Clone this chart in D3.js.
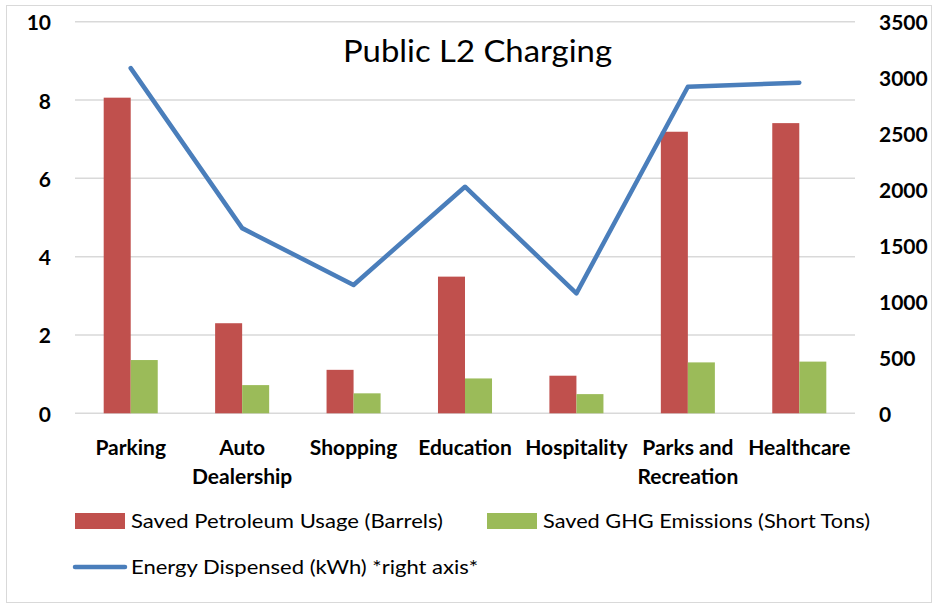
<!DOCTYPE html>
<html>
<head>
<meta charset="utf-8">
<script src="https://cdn.jsdelivr.net/npm/d3@7"></script>
<style>
  html, body { margin: 0; padding: 0; background: #fff; }
  svg text { font-family: Lato, "Open Sans", sans-serif; fill: #000; }
</style>
</head>
<body>
<svg id="chart" width="939" height="605"></svg>
<script>
// Public L2 charging by venue type
const categories = ["Parking", "Auto Dealership", "Shopping", "Education", "Hospitality", "Parks and Recreation", "Healthcare"];
const categoryLines = [["Parking"], ["Auto", "Dealership"], ["Shopping"], ["Education"], ["Hospitality"], ["Parks and", "Recreation"], ["Healthcare"]];
const petroleumBarrels = [8.06, 2.30, 1.11, 3.49, 0.96, 7.19, 7.41];
const ghgShortTons = [1.36, 0.72, 0.51, 0.89, 0.49, 1.30, 1.32];
const energyKWh = [3085, 1655, 1147, 2025, 1072, 2919, 2955];
const leftTicks = [0, 2, 4, 6, 8, 10];
const rightTicks = [0, 500, 1000, 1500, 2000, 2500, 3000, 3500];
const seriesNames = ["Saved Petroleum Usage (Barrels)", "Saved GHG Emissions (Short Tons)", "Energy Dispensed (kWh) *right axis*"];

const colors = { petroleum: "#C0504D", ghg: "#9BBB59", energy: "#4A7EBB", grid: "#D9D9D9" };

const svg = d3.select("#chart");
const plot = { left: 75, right: 855, top: 21.7, bottom: 413.3 };

// outer frame
svg.append("rect")
  .attr("x", 6.5).attr("y", 5.5).attr("width", 925).attr("height", 597)
  .attr("fill", "#fff").attr("stroke", colors.grid).attr("stroke-width", 1);

const x0 = d3.scaleBand().domain(categories).range([plot.left, plot.right])
  .paddingInner(0.515).paddingOuter(0.2575);
const x1 = d3.scaleBand().domain(["petroleum", "ghg"]).range([0, x0.bandwidth()]);
const yL = d3.scaleLinear().domain([0, 10]).range([plot.bottom, plot.top]);
const yR = d3.scaleLinear().domain([0, 3500]).range([plot.bottom, plot.top]);

// horizontal gridlines
svg.append("g").selectAll("line").data(leftTicks).join("line")
  .attr("x1", plot.left).attr("x2", plot.right)
  .attr("y1", d => yL(d)).attr("y2", d => yL(d))
  .attr("stroke", colors.grid).attr("stroke-width", 1.5);

// left axis labels
const leftAxis = d3.axisLeft(yL).tickValues(leftTicks).tickSize(0).tickPadding(0).tickFormat(d3.format("d"));
const gL = svg.append("g").attr("transform", "translate(51,0)").call(leftAxis);
gL.select(".domain").remove();
gL.selectAll("text").attr("font-size", 21).attr("font-weight", "bold").attr("dy", "0.38em");

// right axis labels
const rightAxis = d3.axisRight(yR).tickValues(rightTicks).tickSize(0).tickPadding(0).tickFormat(d3.format("d"));
const gR = svg.append("g").attr("transform", "translate(879,0)").call(rightAxis);
gR.select(".domain").remove();
gR.selectAll("text").attr("font-size", 21).attr("font-weight", "bold").attr("dy", "0.38em");

// bars
const groups = svg.append("g").selectAll("g").data(categories).join("g")
  .attr("transform", d => `translate(${x0(d)},0)`);
groups.append("rect")
  .attr("x", x1("petroleum")).attr("width", x1.bandwidth())
  .attr("y", (d, i) => yL(petroleumBarrels[i]))
  .attr("height", (d, i) => yL(0) - yL(petroleumBarrels[i]))
  .attr("fill", colors.petroleum);
groups.append("rect")
  .attr("x", x1("ghg")).attr("width", x1.bandwidth())
  .attr("y", (d, i) => yL(ghgShortTons[i]))
  .attr("height", (d, i) => yL(0) - yL(ghgShortTons[i]))
  .attr("fill", colors.ghg);

// energy line on right axis
const line = d3.line()
  .x((d, i) => x0(categories[i]) + x0.bandwidth() / 2)
  .y(d => yR(d));
svg.append("path").datum(energyKWh)
  .attr("d", line).attr("fill", "none")
  .attr("stroke", colors.energy).attr("stroke-width", 4.5)
  .attr("stroke-linejoin", "round").attr("stroke-linecap", "round");

// category labels
const catG = svg.append("g").selectAll("text").data(categories).join("text")
  .attr("x", d => x0(d) + x0.bandwidth() / 2)
  .attr("y", 455)
  .attr("text-anchor", "middle")
  .attr("font-size", 21).attr("font-weight", "bold");
catG.each(function(d, i) {
  d3.select(this).selectAll("tspan").data(categoryLines[i]).join("tspan")
    .attr("x", x0(d) + x0.bandwidth() / 2)
    .attr("dy", (t, j) => j === 0 ? 0 : 29)
    .text(t => t);
});

// title
svg.append("text").attr("x", 343).attr("y", 62)
  .attr("font-size", 30).attr("textLength", 269).attr("lengthAdjust", "spacingAndGlyphs")
  .text("Public L2 Charging");

// legend
const legend = svg.append("g");
legend.append("rect").attr("x", 75).attr("y", 513).attr("width", 50).attr("height", 16).attr("fill", colors.petroleum);
legend.append("text").attr("x", 131).attr("y", 528).attr("font-size", 20)
  .attr("textLength", 312).attr("lengthAdjust", "spacingAndGlyphs").text(seriesNames[0]);
legend.append("rect").attr("x", 487).attr("y", 513).attr("width", 50).attr("height", 16).attr("fill", colors.ghg);
legend.append("text").attr("x", 543).attr("y", 528).attr("font-size", 20)
  .attr("textLength", 327).attr("lengthAdjust", "spacingAndGlyphs").text(seriesNames[1]);
legend.append("line").attr("x1", 75).attr("x2", 125).attr("y1", 567).attr("y2", 567)
  .attr("stroke", colors.energy).attr("stroke-width", 4.5).attr("stroke-linecap", "round");
legend.append("text").attr("x", 131).attr("y", 574).attr("font-size", 20)
  .attr("textLength", 347).attr("lengthAdjust", "spacingAndGlyphs").text(seriesNames[2]);
</script>
</body>
</html>
